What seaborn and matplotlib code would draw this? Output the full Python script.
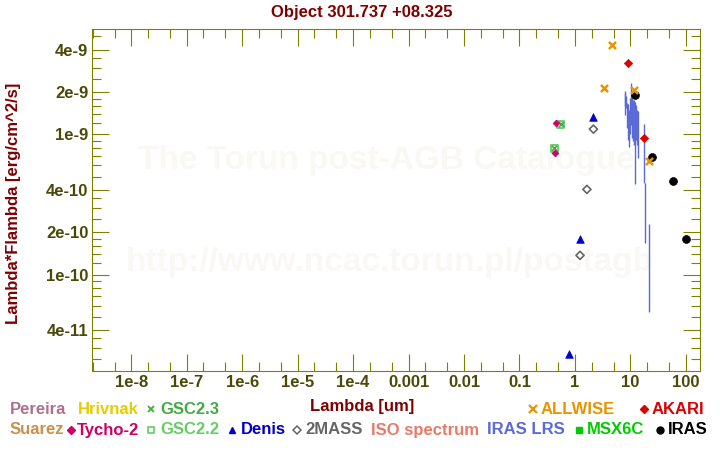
import numpy as np
import pandas as pd
import matplotlib
matplotlib.use("Agg")
import matplotlib.pyplot as plt
import seaborn as sns
from matplotlib.ticker import FixedLocator, FixedFormatter, NullFormatter
from matplotlib.lines import Line2D

# ---------------- data ----------------
allwise_wave = [3.35, 4.6, 11.6, 22.1]
allwise_flux = [2.13e-9, 4.32e-9, 2.06e-9, 6.45e-10]

akari_wave = [9.0, 18.0]
akari_flux = [3.21e-9, 9.36e-10]

iras_wave = [12.0, 25.0, 60.0, 100.0]
iras_flux = [1.92e-9, 6.85e-10, 4.62e-10, 1.78e-10]

denis_wave = [0.79, 1.22, 2.15]
denis_flux = [2.70e-11, 1.80e-10, 1.32e-9]

twomass_wave = [1.24, 1.65, 2.16]
twomass_flux = [1.37e-10, 4.05e-10, 1.09e-9]

tycho_wave = [0.45, 0.435]
tycho_flux = [1.20e-9, 7.39e-10]

gsc22_wave = [0.557, 0.425]
gsc22_flux = [1.18e-9, 7.94e-10]

gsc23_wave = [0.557, 0.425]
gsc23_flux = [1.18e-9, 7.94e-10]

# IRAS LRS spectrum: wavelength, lower and upper flux of each drawn stroke
lrs_wave = [7.88, 8.05, 8.39, 8.74, 9.11, 9.50, 9.90, 10.32, 10.76, 11.21,
            11.69, 12.18, 12.70, 13.24, 13.80, 17.93, 18.69, 22.07]
lrs_lo = [1.60e-9, 1.37e-9, 1.54e-9, 1.11e-9, 9.11e-10, 8.11e-10, 1.00e-9,
          1.17e-9, 9.41e-10, 8.96e-10, 8.39e-10, 4.42e-10, 9.11e-10, 8.39e-10,
          6.77e-10, 4.49e-10, 1.67e-10, 5.38e-11]
lrs_hi = [1.97e-9, 2.04e-9, 1.88e-9, 1.67e-9, 1.65e-9, 1.49e-9, 1.82e-9,
          2.32e-9, 1.82e-9, 1.76e-9, 1.76e-9, 1.70e-9, 1.62e-9, 1.49e-9,
          1.47e-9, 1.185e-9, 4.49e-10, 2.29e-10]

x_major = [1e-8, 1e-7, 1e-6, 1e-5, 1e-4, 1e-3, 1e-2, 1e-1, 1, 10, 100]
x_labels = ["1e-8", "1e-7", "1e-6", "1e-5", "1e-4", "0.001", "0.01", "0.1",
            "1", "10", "100"]
y_major = [4e-11, 1e-10, 2e-10, 4e-10, 1e-9, 2e-9, 4e-9]
y_labels = ["4e-11", "1e-10", "2e-10", "4e-10", "1e-9", "2e-9", "4e-9"]

# ---------------- style ----------------
sns.set_theme(style="white")
plt.rcParams["font.family"] = ["Liberation Sans", "DejaVu Sans"]
plt.rcParams["font.weight"] = "bold"

OLIVE = "#808000"
TICKTXT = "#4a4a08"
DARKRED = "#800000"

W, H = 720, 450
fig = plt.figure(figsize=(7.2, 4.5), dpi=100)
ax = fig.add_axes([92.5 / W, 1 - 371 / H, 607 / W, 341.7 / H])
ax.set_facecolor("white")

ax.set_xscale("log")
ax.set_yscale("log")
ax.set_xlim(2.0e-9, 177)
ax.set_ylim(2.05e-11, 5.62e-9)

# watermark
ax.text(386 / W, 1 - 160 / H, "The Torun post-AGB Catalogue", transform=fig.transFigure,
        ha="center", va="center", fontsize=24, fontweight="bold", color="#f9f8f4", zorder=0)
ax.text(390 / W, 1 - 262 / H, "http://www.ncac.torun.pl/postagb", transform=fig.transFigure,
        ha="center", va="center", fontsize=24, fontweight="bold", color="#f9f8f4", zorder=0)

# spectrum
ax.vlines(lrs_wave, lrs_lo, lrs_hi, color="#5a6ad6", linewidth=1.0, zorder=2)

# photometry
def pts(w, f, **kw):
    sns.scatterplot(x=w, y=f, ax=ax, legend=False, zorder=3, **kw)

pts(gsc22_wave, gsc22_flux, marker="s", s=28, facecolor="none", edgecolor="#66cc66", linewidth=1.3)
pts(gsc23_wave, gsc23_flux, marker="x", s=14, color="#44aa44", linewidth=1.2)
pts(tycho_wave, tycho_flux, marker="D", s=12, color="#cc0066", edgecolor="#cc0066", linewidth=0.5)
pts(denis_wave, denis_flux, marker="^", s=30, color="#0000cc", edgecolor="#0000cc", linewidth=0.5)
pts(twomass_wave, twomass_flux, marker="D", s=17, facecolor="none", edgecolor="#666666", linewidth=1.2)
pts(iras_wave, iras_flux, marker="o", s=32, color="black", edgecolor="black", linewidth=0.5)
pts(akari_wave, akari_flux, marker="D", s=18, color="#dd0000", edgecolor="#dd0000", linewidth=0.5)
pts(allwise_wave, allwise_flux, marker="x", s=26, color="#e69500", linewidth=1.8)

# ticks
ax.xaxis.set_major_locator(FixedLocator(x_major))
ax.xaxis.set_major_formatter(FixedFormatter(x_labels))
ax.xaxis.set_minor_locator(FixedLocator([k * 10.0 ** e for e in range(-9, 3) for k in (2, 5)]))
ax.xaxis.set_minor_formatter(NullFormatter())
ax.yaxis.set_major_locator(FixedLocator(y_major))
ax.yaxis.set_major_formatter(FixedFormatter(y_labels))
ymin_mult = [1.2, 1.4, 1.6, 1.8, 2.5, 3, 3.5, 5, 6, 7, 8, 9]
ax.yaxis.set_minor_locator(FixedLocator([k * 10.0 ** e for e in range(-12, -7) for k in ymin_mult]))
ax.yaxis.set_minor_formatter(NullFormatter())

ax.tick_params(which="both", direction="in", top=True, right=True, bottom=True, left=True,
               color=OLIVE, width=0.8, labelcolor=TICKTXT, labelsize=12, pad=3)
ax.tick_params(which="major", length=12.5)
ax.tick_params(which="minor", length=6.5)
for lab in ax.get_xticklabels() + ax.get_yticklabels():
    lab.set_fontweight("bold")
for sp in ax.spines.values():
    sp.set_color(OLIVE)
    sp.set_linewidth(0.8)
    sp.set_visible(True)

# titles / labels
fig.text(362 / W, 1 - 12 / H, "Object 301.737 +08.325", ha="center", va="center",
         fontsize=12, fontweight="bold", color=DARKRED)
fig.text(362 / W, 1 - 407 / H, "Lambda [um]", ha="center", va="center",
         fontsize=12, fontweight="bold", color=DARKRED)
fig.text(14 / W, 1 - 203 / H, "Lambda*Flambda [erg/cm^2/s]", ha="center", va="center",
         rotation=90, fontsize=12, fontweight="bold", color=DARKRED)

# catalogue key
def key_text(x, y, s, c):
    fig.text(x / W, 1 - y / H, s, ha="left", va="center", fontsize=12,
             fontweight="bold", color=c)

def key_mark(x, y, **kw):
    fig.add_artist(Line2D([x / W], [1 - y / H], transform=fig.transFigure, linestyle="none", **kw))

R1, R2 = 409, 430
key_text(10, R1, "Pereira", "#b0708c")
key_text(78, R1, "Hrivnak", "#e6cc00")
key_mark(151, R1, marker="x", markersize=4.5, color="#44aa44", markeredgewidth=1.3)
key_text(160, R1, "GSC2.3", "#44aa44")
key_mark(533, R1, marker="x", markersize=5.5, color="#e69500", markeredgewidth=1.6)
key_text(541, R1, "ALLWISE", "#e69500")
key_mark(644, R1, marker="D", markersize=4.2, color="#dd0000", markeredgecolor="#dd0000")
key_text(652, R1, "AKARI", "#dd0000")

key_text(10, R2, "Suarez", "#c8904a")
key_mark(71, R2, marker="D", markersize=4.2, color="#cc0066", markeredgecolor="#cc0066")
key_text(77, R2, "Tycho-2", "#cc0066")
key_mark(151, R2, marker="s", markersize=4.5, markerfacecolor="none", markeredgecolor="#66cc66", markeredgewidth=1.2)
key_text(160, R2, "GSC2.2", "#66cc66")
key_mark(232, R2, marker="^", markersize=5, color="#0000cc")
key_text(241, R2, "Denis", "#0000cc")
key_mark(297, R2, marker="D", markersize=4, markerfacecolor="none", markeredgecolor="#666666", markeredgewidth=1.1)
key_text(305, R2, "2MASS", "#666666")
key_text(371, R2, "ISO spectrum", "#e87a6a")
key_text(487, R2, "IRAS LRS", "#5a6ad6")
key_mark(579, R2, marker="s", markersize=4.5, color="#00cc00")
key_text(587, R2, "MSX6C", "#00cc00")
key_mark(660, R2, marker="o", markersize=5, color="black")
key_text(668, R2, "IRAS", "black")

fig.savefig("out.png", dpi=100, facecolor="white")
